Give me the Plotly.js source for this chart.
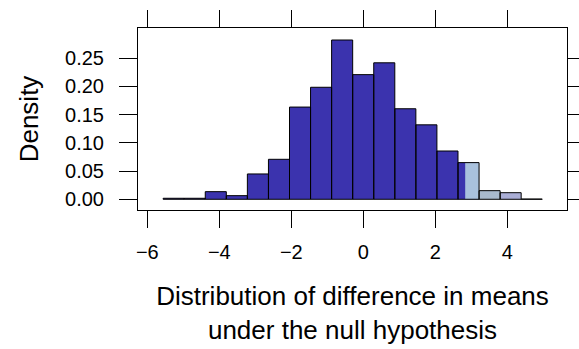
<!DOCTYPE html>
<html>
<head>
<meta charset="utf-8">
<script src="https://cdn.plot.ly/plotly-3.0.1.min.js"></script>
<style>html,body{margin:0;padding:0;background:#fff;}#chart{width:579px;height:349px;}</style>
</head>
<body>
<div id="chart"></div>
<script>
// Histogram bins (left edges, width) and densities
const binLeft = [-5.56, -4.975, -4.39, -3.805, -3.22, -2.635, -2.05, -1.465, -0.88, -0.295, 0.29, 0.875, 1.46, 2.045, 2.63, 3.215, 3.80, 4.385];
const binWidth = 0.585;
const density = [0.0018, 0.0018, 0.0135, 0.0064, 0.0449, 0.0709, 0.1635, 0.1986, 0.2824, 0.221, 0.242, 0.1605, 0.132, 0.0856, 0.065, 0.0153, 0.0117, 0.0004];
const binColor = ['#3b33ae','#3b33ae','#3b33ae','#3b33ae','#3b33ae','#3b33ae','#3b33ae','#3b33ae','#3b33ae','#3b33ae','#3b33ae','#3b33ae','#3b33ae','#3b33ae','#3b33ae','#a9bacd','#aaaed6','#aaaed6'];
// Shaded tail beyond the observed statistic inside the split bin
const observed = 2.83;
const splitBin = 14;
const shadeColor = '#a9c1dd';

const centers = binLeft.map(l => l + binWidth / 2);
const splitRight = binLeft[splitBin] + binWidth;

const traces = [
  {type: 'bar', x: centers, y: density, width: binWidth,
   marker: {color: binColor, line: {width: 0}}, hoverinfo: 'skip'},
  {type: 'bar', x: [(observed + splitRight) / 2], y: [density[splitBin]], width: splitRight - observed,
   marker: {color: shadeColor, line: {width: 0}}, hoverinfo: 'skip'},
  {type: 'bar', x: centers, y: density, width: binWidth,
   marker: {color: 'rgba(0,0,0,0)', line: {color: '#000', width: 1}}, hoverinfo: 'skip'}
];

const font = {family: 'Liberation Sans, Arial, sans-serif', color: '#000'};
const layout = {
  width: 579, height: 349,
  margin: {l: 138, r: 12, t: 28, b: 139},
  paper_bgcolor: '#fff', plot_bgcolor: '#fff',
  showlegend: false, barmode: 'overlay',
  font: font,
  xaxis: {
    range: [-6.258, 5.658], tickvals: [-6, -4, -2, 0, 2, 4], ticktext: ['\u22126', '\u22124', '\u22122', '0', '2', '4'],
    ticks: 'outside', ticklen: 17, tickwidth: 1, tickcolor: '#000',
    showline: true, linecolor: '#000', linewidth: 1, mirror: 'allticks',
    showgrid: false, zeroline: false,
    tickfont: {size: 20, family: font.family, color: '#000'}, ticklabelstandoff: 7,
    title: {text: 'Distribution of difference in means<br>under the null hypothesis', font: {size: 26, family: font.family, color: '#000'}, standoff: 24}
  },
  yaxis: {
    range: [-0.019, 0.3037], tickvals: [0, 0.05, 0.10, 0.15, 0.20, 0.25], ticktext: ['0.00', '0.05', '0.10', '0.15', '0.20', '0.25'],
    ticks: 'outside', ticklen: 18, tickwidth: 1, tickcolor: '#000',
    showline: true, linecolor: '#000', linewidth: 1, mirror: 'allticks',
    showgrid: false, zeroline: false,
    tickfont: {size: 20, family: font.family, color: '#000'}, ticklabelstandoff: 11,
    title: {text: 'Density', font: {size: 26, family: font.family, color: '#000'}, standoff: 18}
  }
};

Plotly.newPlot('chart', traces, layout, {staticPlot: true, displayModeBar: false});
</script>
</body>
</html>
